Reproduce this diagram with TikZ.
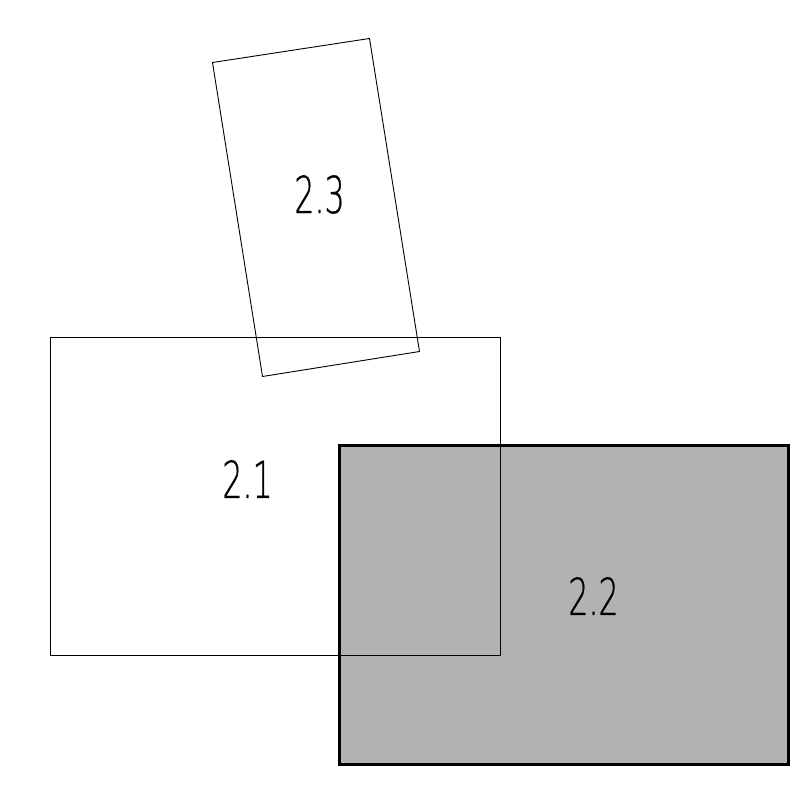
\documentclass[tikz,border=0pt]{standalone}
\usepackage{fontspec}
\newfontfamily\platefont{DejaVu Sans ExtraLight}[FakeStretch=0.62, FakeBold=0.6]
\usetikzlibrary{calc}

\begin{document}
\begin{tikzpicture}[x=1pt, y=-1pt,
  thinplate/.style={draw=black, line width=0.9pt},
  heavyplate/.style={draw=black, line width=3pt, fill=black, fill opacity=0.3, draw opacity=1},
  platelabel/.style={font=\platefont\fontsize{51}{51}\selectfont, text=black, inner sep=0pt}]
  \useasboundingbox (0,0) rectangle (809,794);

  % Plate 2.1
  \draw[thinplate] (50.5,337.5) rectangle (500.5,655.5);
  \node[platelabel] (p21) at (247.5,479) {2.1};

  % Plate 2.2 (shaded, on top)
  \path[heavyplate] (339.5,445.5) rectangle (788.5,764.5);
  \node[platelabel] (p22) at (593.5,596) {2.2};

  % Plate 2.3, tilted
  \coordinate (A) at (212.5,62.5);
  \coordinate (B) at (369.5,38.5);
  \coordinate (C) at (419.5,351.5);
  \coordinate (D) at (262.5,376.5);
  \draw[thinplate] (A) -- (B) -- (C) -- (D) -- cycle;
  \node[platelabel] (p23) at (319.5,194.5) {2.3};
\end{tikzpicture}
\end{document}
